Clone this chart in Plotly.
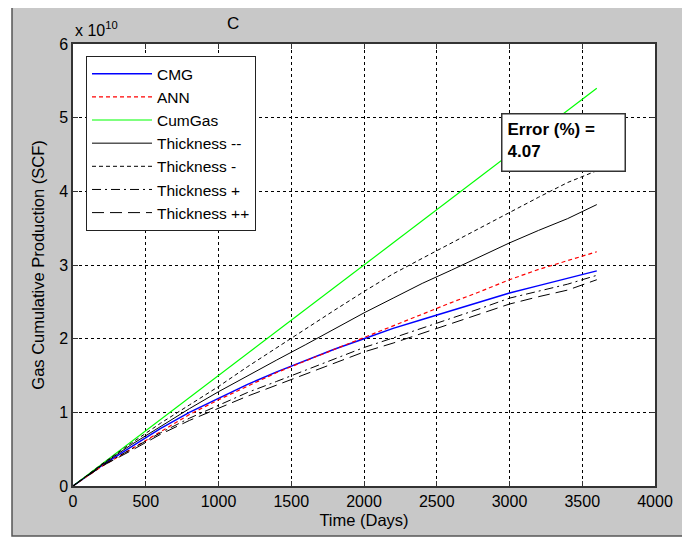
import plotly.graph_objects as go

# Time (days)
days = [0, 200, 400, 600, 800, 1000, 1200, 1400, 1600, 1800, 2000,
        2200, 2400, 2600, 2800, 3000, 3200, 3400, 3600]

# Gas cumulative production, in units of 1e10 SCF
cmg = [0, 0.28, 0.53, 0.78, 1.00, 1.19, 1.38, 1.55, 1.71, 1.86, 2.00,
       2.14, 2.26, 2.38, 2.50, 2.62, 2.72, 2.82, 2.92]
ann = [0, 0.27, 0.50, 0.74, 0.97, 1.17, 1.36, 1.54, 1.70, 1.86, 2.02,
       2.18, 2.33, 2.49, 2.64, 2.80, 2.94, 3.06, 3.18]
cumgas = [0, 0.30, 0.60, 0.90, 1.20, 1.50, 1.80, 2.10, 2.41, 2.70, 3.00,
          3.30, 3.60, 3.90, 4.20, 4.50, 4.80, 5.10, 5.40]
thick_mm = [0, 0.29, 0.56, 0.81, 1.05, 1.28, 1.50, 1.71, 1.92, 2.14, 2.35,
            2.55, 2.75, 2.93, 3.12, 3.30, 3.47, 3.63, 3.82]
thick_m = [0, 0.30, 0.58, 0.85, 1.10, 1.35, 1.62, 1.88, 2.14, 2.39, 2.64,
           2.88, 3.09, 3.30, 3.51, 3.72, 3.92, 4.12, 4.28]
thick_p = [0, 0.28, 0.50, 0.72, 0.92, 1.10, 1.27, 1.42, 1.57, 1.73, 1.88,
           2.01, 2.14, 2.27, 2.41, 2.55, 2.65, 2.74, 2.86]
thick_pp = [0, 0.27, 0.48, 0.70, 0.89, 1.06, 1.22, 1.37, 1.52, 1.67, 1.82,
            1.94, 2.07, 2.20, 2.34, 2.47, 2.57, 2.66, 2.80]

x_ticks = [0, 500, 1000, 1500, 2000, 2500, 3000, 3500, 4000]
y_ticks = [0, 1, 2, 3, 4, 5, 6]

series = [
    ("CMG", cmg, "#0000ff", "solid", 1.5),
    ("ANN", ann, "#ff0000", "4px,3px", 1.2),
    ("CumGas", cumgas, "#00ff00", "solid", 1.2),
    ("Thickness --", thick_mm, "#000000", "solid", 1),
    ("Thickness -", thick_m, "#000000", "4px,3px", 1),
    ("Thickness +", thick_p, "#000000", "9px,4px,2px,4px", 1),
    ("Thickness ++", thick_pp, "#000000", "12px,6px", 1),
]

FONT = "Liberation Sans, Arial, sans-serif"

fig = go.Figure()
for name, vals, col, dash, w in series:
    fig.add_trace(go.Scatter(x=days, y=vals, mode="lines", name=name,
                             line=dict(color=col, dash=dash, width=w)))

# page body has an 8px margin, so the figure is offset by (8, 8)
fig.update_layout(
    width=682, height=529,
    margin=dict(l=65, r=35, t=36, b=51, autoexpand=False),
    paper_bgcolor="white",
    plot_bgcolor="white",
    font=dict(family=FONT, size=16, color="black"),
    showlegend=True,
    legend=dict(x=0.022, y=0.973, xanchor="left", yanchor="top",
                bgcolor="white", bordercolor="#222222", borderwidth=1.2,
                font=dict(family=FONT, size=15.5), tracegroupgap=0,
                itemwidth=60),
    shapes=[
        dict(type="rect", xref="paper", yref="paper",
             x0=-0.1048, x1=1.048, y0=-0.113, y1=1.088,
             fillcolor="#c8c8c8", line=dict(color="#555555", width=1.5),
             layer="below"),
        dict(type="rect", xref="paper", yref="paper",
             x0=0, x1=1, y0=0, y1=1,
             fillcolor="white", line=dict(width=0), layer="below"),
    ],
    annotations=[
        dict(text="C", xref="paper", yref="paper", x=(233 - 73) / 582,
             y=(486 - 24) / 442, showarrow=False, font=dict(size=17),
             xanchor="center", yanchor="middle"),
        dict(text="x 10<sup>10</sup>", xref="paper", yref="paper",
             x=0.0, y=1.0, xanchor="left", yanchor="bottom", yshift=3,
             showarrow=False, font=dict(size=16)),
        dict(text="<b>Error (%) =<br>4.07</b>", xref="paper", yref="paper",
             x=(501 - 73) / 582, y=(486 - 113) / 442,
             xanchor="left", yanchor="top", align="left", valign="top",
             width=112, height=46, showarrow=False,
             bgcolor="white", bordercolor="#333333", borderwidth=1.5,
             borderpad=5, font=dict(size=17)),
    ],
)

fig.update_xaxes(
    range=[0, 4000], tickvals=x_ticks, ticktext=[str(v) for v in x_ticks],
    showgrid=True, gridcolor="black", griddash="3px,3px", gridwidth=1,
    zeroline=False, showline=True, linecolor="#333333", linewidth=1.5,
    mirror="ticks", ticks="inside", ticklen=5, tickcolor="#333333",
    title=dict(text="Time (Days)", standoff=5, font=dict(size=16.5)),
    tickfont=dict(size=16),
)
fig.update_yaxes(
    range=[0, 6], tickvals=y_ticks, ticktext=[str(v) for v in y_ticks],
    showgrid=True, gridcolor="black", griddash="3px,3px", gridwidth=1,
    zeroline=False, showline=True, linecolor="#333333", linewidth=1.5,
    mirror="ticks", ticks="inside", ticklen=5, tickcolor="#333333",
    title=dict(text="Gas Cumulative Production (SCF)", standoff=10,
               font=dict(size=16.5)),
    tickfont=dict(size=16),
)

fig.write_html("out.html")
